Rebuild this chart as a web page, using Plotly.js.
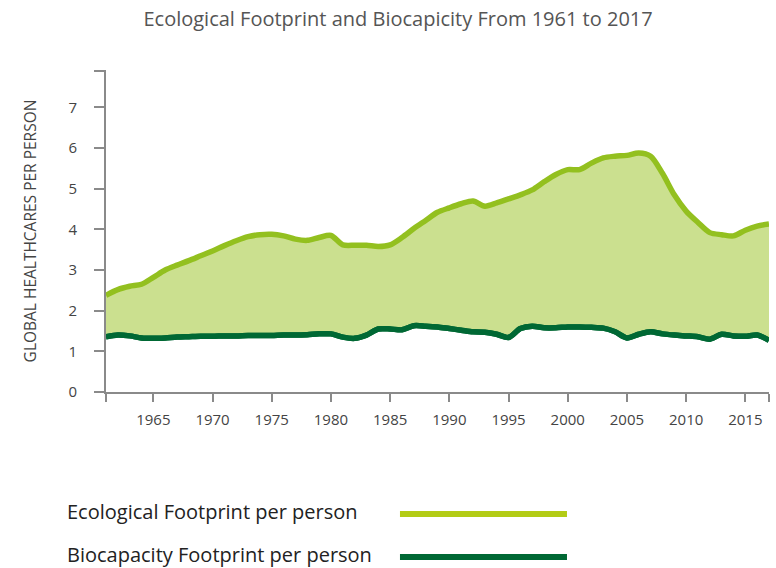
<!DOCTYPE html>
<html>
<head>
<meta charset="utf-8">
<script src="https://cdn.plot.ly/plotly-3.0.1.min.js"></script>
<style>html,body{margin:0;padding:0;background:#fff;}#chart{width:776px;height:568px;}</style>
</head>
<body>
<div id="chart"></div>
<script>
var years = [];
for (var y = 1961; y <= 2017; y++) years.push(y);

var ecologicalFootprint = [
  2.38, 2.52, 2.60, 2.65, 2.82, 3.00, 3.12, 3.23, 3.35, 3.47,
  3.60, 3.72, 3.82, 3.87, 3.88, 3.84, 3.76, 3.73, 3.80, 3.85,
  3.62, 3.61, 3.61, 3.58, 3.62, 3.80, 4.02, 4.22, 4.42, 4.53,
  4.63, 4.70, 4.57, 4.65, 4.75, 4.85, 4.97, 5.17, 5.35, 5.47,
  5.47, 5.63, 5.76, 5.80, 5.82, 5.88, 5.80, 5.38, 4.85, 4.45,
  4.17, 3.92, 3.87, 3.84, 3.98, 4.08, 4.13
];
var biocapacity = [
  1.36, 1.40, 1.38, 1.33, 1.32, 1.33, 1.35, 1.36, 1.37, 1.37,
  1.38, 1.38, 1.39, 1.39, 1.39, 1.40, 1.40, 1.41, 1.43, 1.43,
  1.35, 1.32, 1.40, 1.55, 1.55, 1.53, 1.63, 1.62, 1.60, 1.56,
  1.52, 1.48, 1.47, 1.42, 1.34, 1.56, 1.62, 1.58, 1.58, 1.60,
  1.60, 1.59, 1.57, 1.48, 1.33, 1.42, 1.48, 1.43, 1.40, 1.38,
  1.36, 1.30, 1.42, 1.38, 1.37, 1.40, 1.27
];

var xTickVals = [1961, 1965, 1970, 1975, 1980, 1985, 1990, 1995, 2000, 2005, 2010, 2015, 2017];
var xTickText = ['', '1965', '1970', '1975', '1980', '1985', '1990', '1995', '2000', '2005', '2010', '2015', ''];
var yTickVals = [0, 1, 2, 3, 4, 5, 6, 7, 7.9];
var yTickText = ['0', '1', '2', '3', '4', '5', '6', '7', ''];

var seriesNames = ['Ecological Footprint per person', 'Biocapacity Footprint per person'];
var colEco = '#93c01f', colEcoLegend = '#b3cc15', colFill = '#cbe08f', colBio = '#006834';

var FONT = '"Open Sans", "DejaVu Sans", sans-serif';

var traces = [
  {
    x: years, y: biocapacity, type: 'scatter', mode: 'lines', name: seriesNames[1],
    line: {color: colBio, width: 5.5, shape: 'spline', smoothing: 0.8},
    hoverinfo: 'x+y', showlegend: false
  },
  {
    x: years, y: ecologicalFootprint, type: 'scatter', mode: 'lines', name: seriesNames[0],
    line: {color: colEco, width: 5.5, shape: 'spline', smoothing: 0.8},
    fill: 'tonexty', fillcolor: colFill,
    hoverinfo: 'x+y', showlegend: false
  }
];
// redraw bio line on top of the fill
traces.push({
  x: years, y: biocapacity, type: 'scatter', mode: 'lines', name: seriesNames[1],
  line: {color: colBio, width: 5.5, shape: 'spline', smoothing: 0.8},
  hoverinfo: 'skip', showlegend: false
});

var axisColor = '#8a8a8a';
var layout = {
  width: 776, height: 568,
  margin: {l: 106, r: 7, t: 70, b: 176},
  paper_bgcolor: '#ffffff', plot_bgcolor: '#ffffff',
  font: {family: FONT, color: '#444444', size: 15},
  title: {
    text: 'Ecological Footprint and Biocapicity From 1961 to 2017',
    font: {family: FONT, size: 20, color: '#555555'},
    x: 0.513, xref: 'container', xanchor: 'center',
    y: 0.966, yref: 'container', yanchor: 'middle'
  },
  showlegend: false,
  xaxis: {
    range: [1961, 2017], showgrid: false, zeroline: false,
    showline: true, linecolor: axisColor, linewidth: 2,
    ticks: 'outside', ticklen: 8, tickwidth: 2, tickcolor: axisColor,
    tickvals: xTickVals, ticktext: xTickText,
    tickfont: {family: FONT, size: 15, color: '#444444'},
    ticklabelstandoff: 5
  },
  yaxis: {
    range: [0, 7.92], showgrid: false, zeroline: false,
    showline: true, linecolor: axisColor, linewidth: 2,
    ticks: 'outside', ticklen: 10, tickwidth: 2, tickcolor: axisColor,
    tickvals: yTickVals, ticktext: yTickText,
    tickfont: {family: FONT, size: 15, color: '#444444'},
    ticklabelstandoff: 14,
    title: {text: 'GLOBAL HEALTHCARES PER PERSON', font: {family: FONT, size: 15.5, color: '#444444'}, standoff: 28}
  },
  annotations: [
    {text: seriesNames[0], xref: 'paper', yref: 'paper', x: -0.0618, y: -0.3696,
     xanchor: 'left', yanchor: 'middle', showarrow: false, font: {family: FONT, size: 20, color: '#222222'}},
    {text: seriesNames[1], xref: 'paper', yref: 'paper', x: -0.0618, y: -0.506,
     xanchor: 'left', yanchor: 'middle', showarrow: false, font: {family: FONT, size: 20, color: '#222222'}}
  ],
  shapes: [
    {type: 'line', xref: 'paper', yref: 'paper', x0: 0.4434, x1: 0.6953, y0: -0.3789, y1: -0.3789,
     line: {color: colEcoLegend, width: 6}},
    {type: 'line', xref: 'paper', yref: 'paper', x0: 0.4434, x1: 0.6953, y0: -0.5124, y1: -0.5124,
     line: {color: colBio, width: 6}}
  ]
};

Plotly.newPlot('chart', traces, layout, {displayModeBar: false, staticPlot: true});
</script>
</body>
</html>
